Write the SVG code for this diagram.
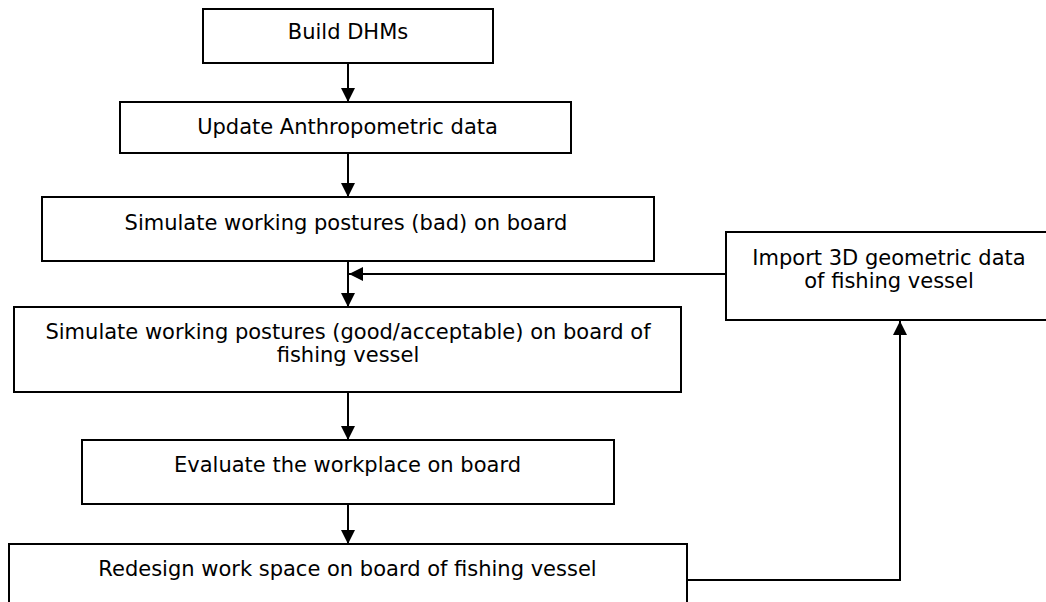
<svg xmlns="http://www.w3.org/2000/svg" width="1046" height="602" viewBox="0 0 1046 602">
<style>
.box{fill:#fff;stroke:#000;stroke-width:2}
.t{font-family:"DejaVu Sans","Verdana",sans-serif;font-size:21px;fill:#000;text-anchor:middle}
.c{fill:none;stroke:#000;stroke-width:2}
</style>
<defs>
<marker id="ah" markerUnits="userSpaceOnUse" markerWidth="16" markerHeight="16" viewBox="0 0 16 16" refX="14" refY="8" orient="auto">
<path d="M0,1 L14,8 L0,15 Z" fill="#000"/>
</marker>
</defs>
<rect width="1046" height="602" fill="#fff"/>
<g id="connectors">
<line class="c" x1="348" y1="63" x2="348" y2="102" marker-end="url(#ah)"/>
<line class="c" x1="348" y1="153" x2="348" y2="197" marker-end="url(#ah)"/>
<line class="c" x1="348" y1="261" x2="348" y2="307" marker-end="url(#ah)"/>
<line class="c" x1="726" y1="274" x2="349" y2="274" marker-end="url(#ah)"/>
<line class="c" x1="348" y1="392" x2="348" y2="440" marker-end="url(#ah)"/>
<line class="c" x1="348" y1="504" x2="348" y2="544" marker-end="url(#ah)"/>
<polyline class="c" points="687,580 900,580 900,321" marker-end="url(#ah)"/>
</g>
<g id="n1"><rect class="box" x="203" y="9" width="290" height="54"/><text class="t" x="348" y="39">Build DHMs</text></g>
<g id="n2"><rect class="box" x="120" y="102" width="451" height="51"/><text class="t" x="347.5" y="134">Update Anthropometric data</text></g>
<g id="n3"><rect class="box" x="42" y="197" width="612" height="64"/><text class="t" x="346" y="230">Simulate working postures (bad) on board</text></g>
<g id="n4"><rect class="box" x="14" y="307" width="667" height="85"/><text class="t" x="348" y="339">Simulate working postures (good/acceptable) on board of</text><text class="t" x="348" y="362">fishing vessel</text></g>
<g id="n5"><rect class="box" x="82" y="440" width="532" height="64"/><text class="t" x="347.5" y="472">Evaluate the workplace on board</text></g>
<g id="n6"><rect class="box" x="9" y="544" width="678" height="70"/><text class="t" x="347.5" y="576">Redesign work space on board of fishing vessel</text></g>
<g id="n7"><rect class="box" x="726" y="232" width="330" height="88"/><text class="t" x="889" y="265">Import 3D geometric data</text><text class="t" x="889" y="288">of fishing vessel</text></g>
</svg>
